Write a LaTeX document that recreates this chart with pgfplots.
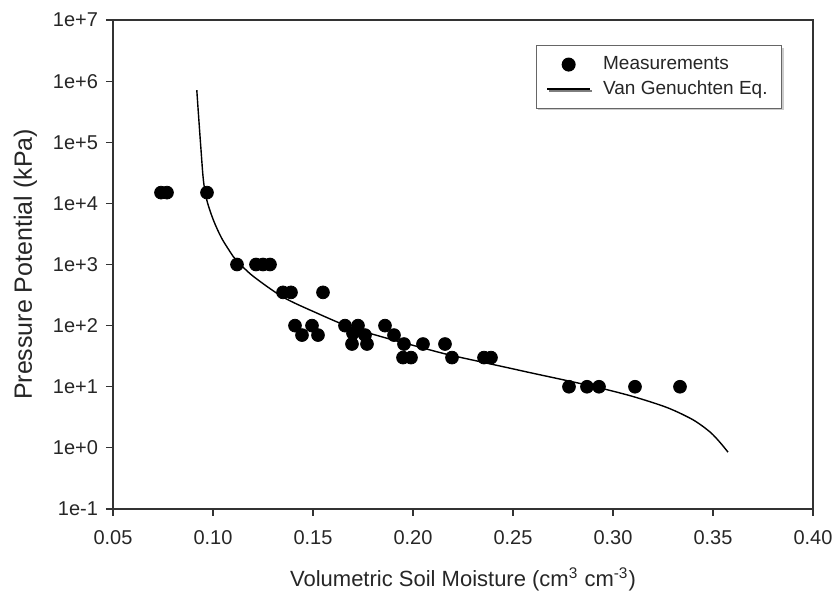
\documentclass[border=0pt]{standalone}
\usepackage{pgfplots}
\pgfplotsset{compat=1.18}
\usepackage{fontspec}
\setmainfont{Liberation Sans}
\usetikzlibrary{shadows}
\pgfplotsset{
  legdot/.style={legend image code/.code={\path[draw=none,fill=none] (0pt,0pt) (26pt,0pt);\draw[##1] plot coordinates {(10.75pt,0pt)};}},
  legline/.style={legend image code/.code={\path[draw=none,fill=none] (0pt,0pt) (26pt,0pt);\draw[##1] (0pt,0pt) -- (21.5pt,0pt);}},
}
\begin{document}
\begin{tikzpicture}
\useasboundingbox (-56.5pt,-42pt) rectangle (359.5pt,254.5pt);
\begin{axis}[
  anchor=south west, at={(0pt,0pt)},
  scale only axis, width=350pt, height=244.5pt,
  xmin=0.05, xmax=0.40,
  ymode=log, ymin=0.1, ymax=1e7,
  xtick={0.05,0.10,0.15,0.20,0.25,0.30,0.35,0.40},
  xticklabels={0.05,0.10,0.15,0.20,0.25,0.30,0.35,0.40},
  ytick={1e-1,1e0,1e1,1e2,1e3,1e4,1e5,1e6,1e7},
  yticklabels={1e-1,1e+0,1e+1,1e+2,1e+3,1e+4,1e+5,1e+6,1e+7},
  minor tick num=0, log basis y=10,
  yminorticks=false,
  tick align=outside, tick pos=lower,
  major tick length=3.5pt,
  axis line style={draw=black!80, line width=0.75pt},
  every tick/.style={draw=black!80, line width=0.6pt},
  tick label style={font=\fontsize{10}{12}\selectfont, text=black!85},
  xticklabel style={yshift=-3.5pt},
  yticklabel style={xshift=-0.5pt},
  xlabel={Volumetric Soil Moisture (cm\textsuperscript{3} cm\textsuperscript{-3})},
  ylabel={Pressure Potential (kPa)},
  xlabel style={font=\fontsize{11}{13}\selectfont, text=black!85, yshift=-5pt},
  ylabel style={font=\fontsize{12.5}{14}\selectfont, text=black!85, yshift=1pt},
  legend style={at={(0.956,0.949)}, anchor=north east,
    draw=black!60, line width=0.6pt, fill=white,
    drop shadow={shadow xshift=1pt, shadow yshift=-1pt, fill=black!40},
    font=\fontsize{9.5}{11}\selectfont, text=black!85,
    inner xsep=5pt, inner ysep=3.5pt, row sep=0pt,
    cells={anchor=west}},
  clip=false,
]
\addplot[only marks, mark=*, mark size=3.2pt, color=black, legdot]
coordinates {
(0.074,15000) (0.077,15000) (0.097,15000)
(0.112,1000) (0.1215,1000) (0.125,1000) (0.1285,1000)
(0.135,350) (0.139,350) (0.155,350)
(0.141,100) (0.1495,100) (0.166,100) (0.1725,100) (0.186,100)
(0.1445,70) (0.1525,70) (0.170,75) (0.176,70) (0.1905,70)
(0.1695,50) (0.177,50) (0.1955,50) (0.205,50) (0.216,50)
(0.195,30) (0.199,30) (0.2195,30) (0.2355,30) (0.239,30)
(0.278,10) (0.287,10) (0.293,10) (0.311,10) (0.3335,10)
};
\addlegendentry{Measurements}
\addplot[smooth, color=black, line width=0.7pt, legline]
coordinates {
(0.0919,7.1e5) (0.0927,2.97e5) (0.0939,8.4e4) (0.0952,2.4e4)
(0.0969,1.13e4) (0.1002,5330) (0.1044,2670) (0.1102,1340)
(0.1125,1100) (0.120,646) (0.135,293) (0.152,160) (0.1685,94.5)
(0.185,64.8) (0.202,45.7) (0.217,33.9) (0.235,25.1) (0.2485,20.1)
(0.26,16.6) (0.277,12.6) (0.2935,9.55) (0.31,6.92) (0.327,4.57)
(0.34,2.88) (0.3485,1.82) (0.3535,1.23) (0.3575,0.85)
};
\addlegendentry{Van Genuchten Eq.}
\end{axis}
\end{tikzpicture}
\end{document}
